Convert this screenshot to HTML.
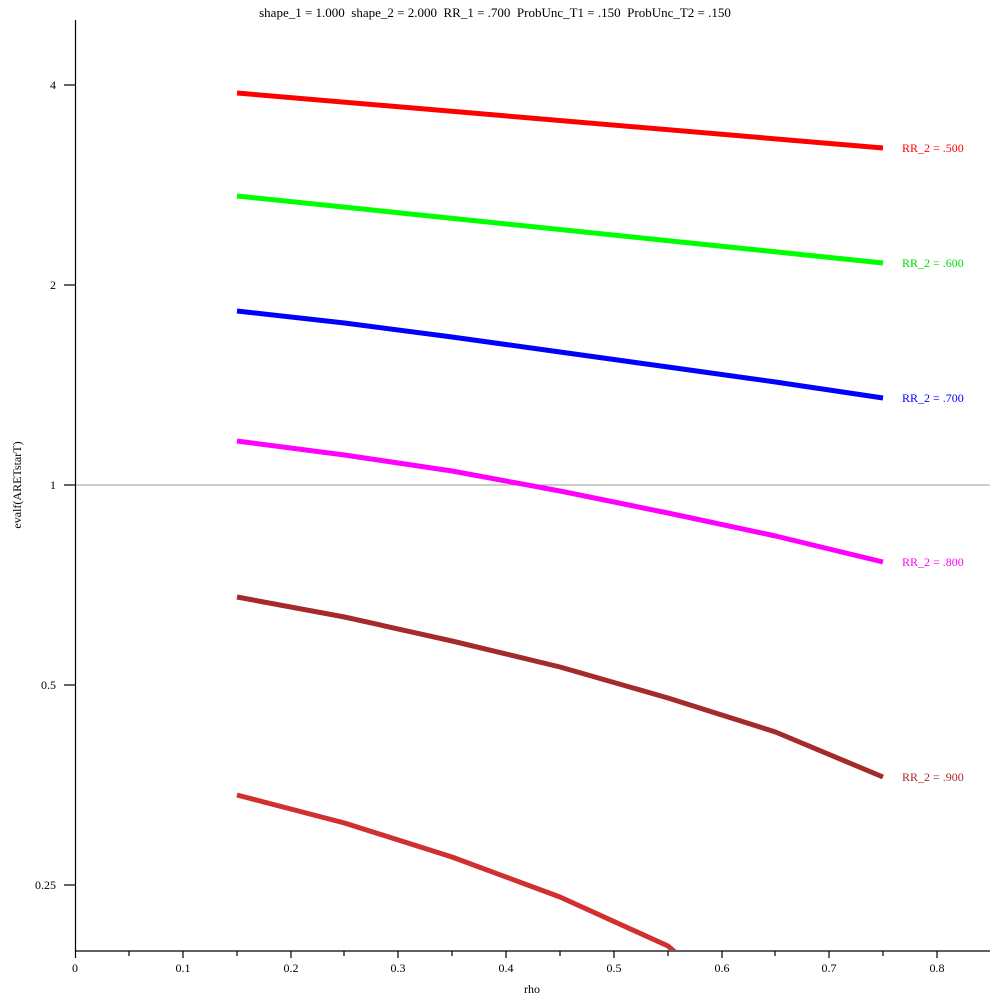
<!DOCTYPE html>
<html><head><meta charset="utf-8"><style>body{margin:0;background:#fff}svg{display:block}</style></head>
<body>
<svg width="1000" height="1000" xmlns="http://www.w3.org/2000/svg" font-family="Liberation Serif, serif" font-size="12">
<text x="495" y="17" text-anchor="middle" fill="#000" font-size="13" xml:space="preserve">shape_1 = 1.000  shape_2 = 2.000  RR_1 = .700  ProbUnc_T1 = .150  ProbUnc_T2 = .150</text>
<line x1="75" y1="485" x2="990" y2="485" stroke="#999" stroke-width="1"/>
<g stroke="#000" stroke-width="1.2">
<line x1="75.5" y1="20" x2="75.5" y2="951"/>
<line x1="75" y1="951" x2="990" y2="951"/>
<line x1="64" y1="85" x2="75" y2="85"/>
<line x1="64" y1="285" x2="75" y2="285"/>
<line x1="64" y1="485" x2="75" y2="485"/>
<line x1="64" y1="685" x2="75" y2="685"/>
<line x1="64" y1="885" x2="75" y2="885"/>
<line x1="75.5" y1="951" x2="75.5" y2="958"/>
<line x1="129" y1="951" x2="129" y2="956"/>
<line x1="183" y1="951" x2="183" y2="958"/>
<line x1="237" y1="951" x2="237" y2="956"/>
<line x1="291" y1="951" x2="291" y2="958"/>
<line x1="344" y1="951" x2="344" y2="956"/>
<line x1="398" y1="951" x2="398" y2="958"/>
<line x1="452" y1="951" x2="452" y2="956"/>
<line x1="506" y1="951" x2="506" y2="958"/>
<line x1="560" y1="951" x2="560" y2="956"/>
<line x1="614" y1="951" x2="614" y2="958"/>
<line x1="668" y1="951" x2="668" y2="956"/>
<line x1="722" y1="951" x2="722" y2="958"/>
<line x1="775" y1="951" x2="775" y2="956"/>
<line x1="829" y1="951" x2="829" y2="958"/>
<line x1="883" y1="951" x2="883" y2="956"/>
<line x1="937" y1="951" x2="937" y2="958"/>
</g>
<g text-anchor="middle" fill="#000">
<text x="75" y="972">0</text><text x="183" y="972">0.1</text><text x="291" y="972">0.2</text><text x="398" y="972">0.3</text>
<text x="506" y="972">0.4</text><text x="614" y="972">0.5</text><text x="722" y="972">0.6</text><text x="829" y="972">0.7</text><text x="937" y="972">0.8</text>
<text x="532" y="993">rho</text>
</g>
<g text-anchor="end" fill="#000">
<text x="56" y="89">4</text><text x="56" y="289">2</text><text x="56" y="489">1</text><text x="56" y="689">0.5</text><text x="56" y="889">0.25</text>
</g>
<text transform="translate(21,485) rotate(-90)" text-anchor="middle" fill="#000">evalf(ARETstarT)</text>
<defs><clipPath id="c"><rect x="76" y="20" width="914" height="930"/></clipPath></defs>
<g fill="none" stroke-width="5" stroke-linejoin="round" clip-path="url(#c)">
<polyline stroke="#ff0000" points="237,93 883,148"/>
<polyline stroke="#00ff00" points="237,196 883,263"/>
<polyline stroke="#0000ff" points="237,311 344.5,323 452,337 560,352 668,367 775.5,382 883,398"/>
<polyline stroke="#ff00ff" points="237,441 344.5,455 452,471 560,491 668,513 775.5,536 883,562"/>
<polyline stroke="#a52a2a" points="237,597 344.5,617 452,641 560,667 668,698 775.5,732 883,777"/>
<polyline stroke="#d03030" points="237,795 344.5,823 452,857 560,897 668,946 690,965"/>
</g>
<text x="902" y="152" fill="#ff0000">RR_2 = .500</text>
<text x="902" y="267" fill="#00dd00">RR_2 = .600</text>
<text x="902" y="402" fill="#0000ff">RR_2 = .700</text>
<text x="902" y="566" fill="#ff00ff">RR_2 = .800</text>
<text x="902" y="781" fill="#a52a2a">RR_2 = .900</text>
</svg>
</body></html>
